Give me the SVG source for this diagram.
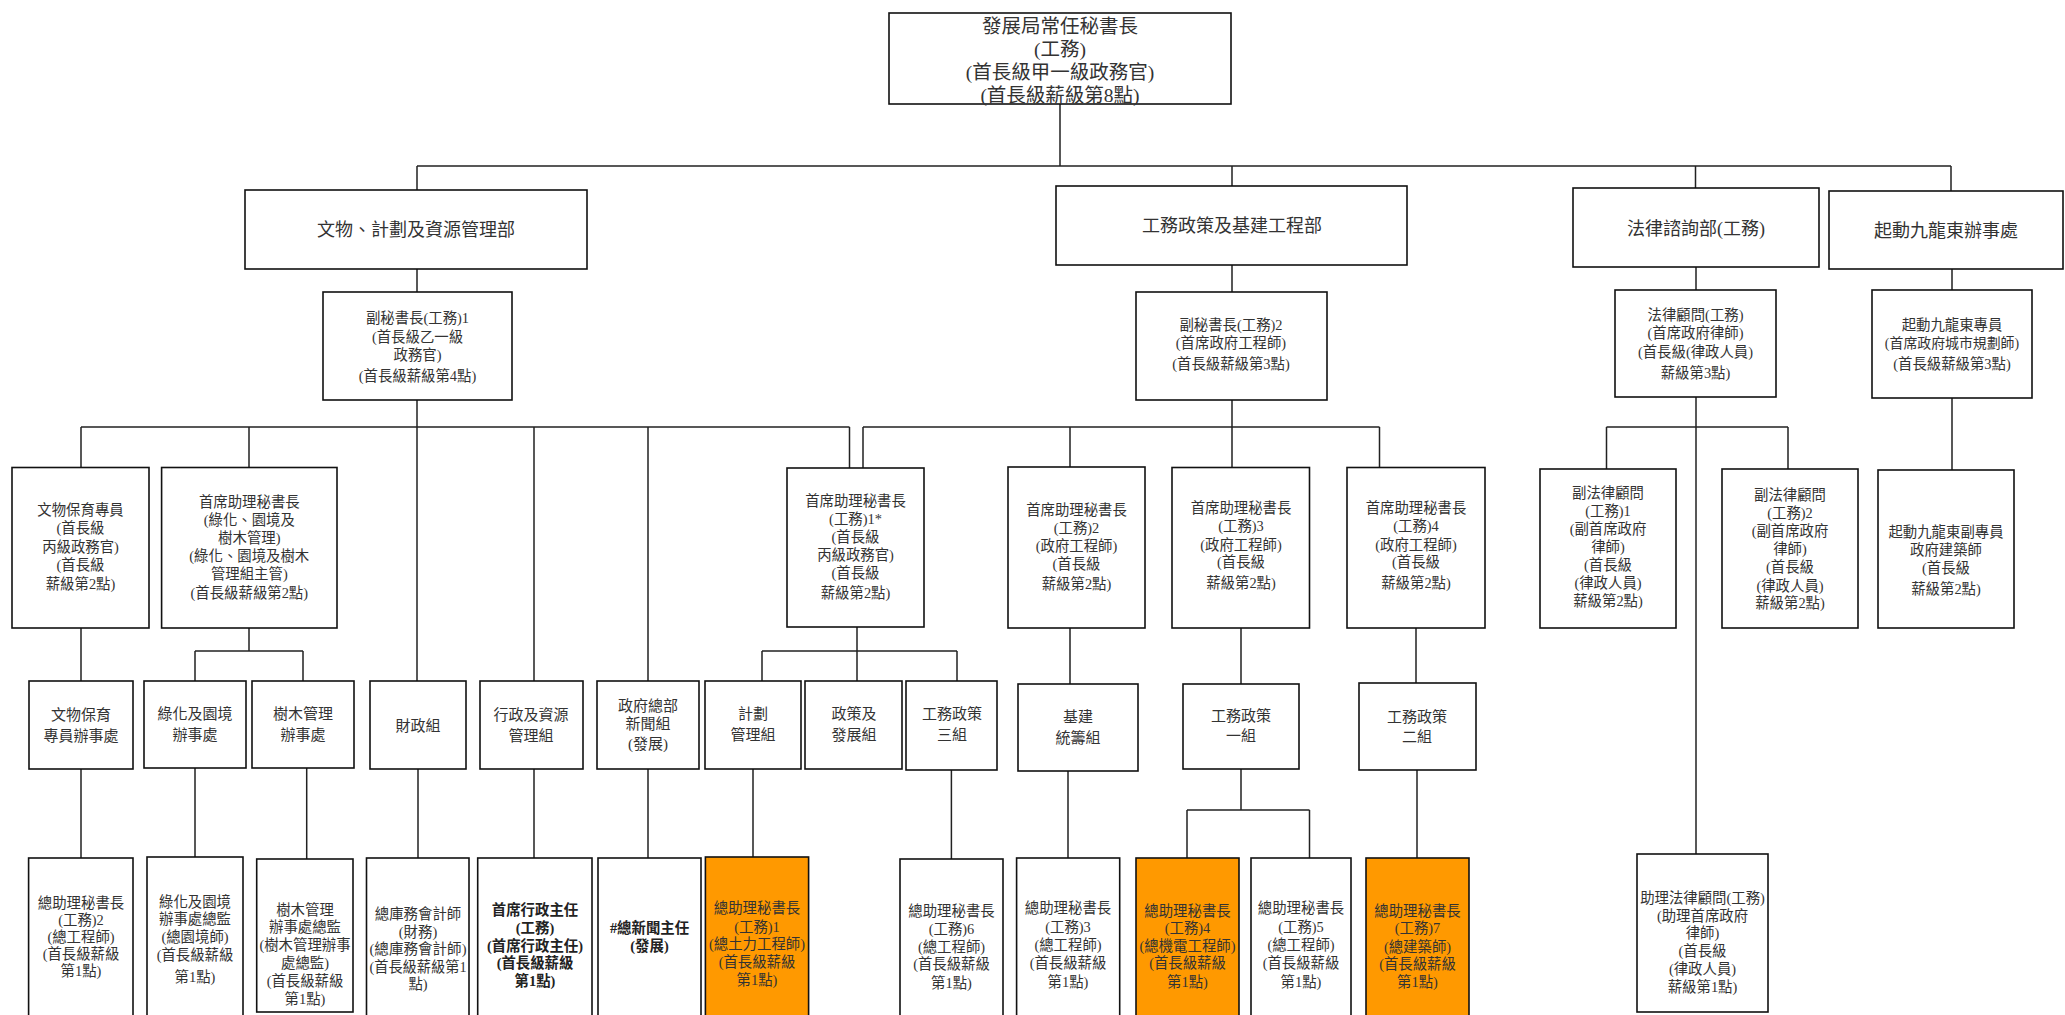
<svg xmlns="http://www.w3.org/2000/svg" width="2065" height="1015" viewBox="0 0 2065 1015">
<style>
.box{fill:#fff;stroke:#111;stroke-width:1.6}
.hl{fill:#FF9900}
.c{fill:none;stroke:#222;stroke-width:1.5}
text{font-family:"Liberation Serif","Noto Sans CJK TC",serif;fill:#333;text-anchor:middle;dominant-baseline:central;font-size:14.4px}
.big{font-size:19.5px}
.dep{font-size:18px}
.mid{font-size:15px}
.b{font-weight:bold;fill:#222}
</style>
<rect width="2065" height="1015" fill="#fff"/>
<g id="connectors">
<path class="c" d="M1060 104V166M417 166H1951M417 166V190M1232 166V186M1695.5 166V188M1951 166V191"/>
<path class="c" d="M417 269V292M1232 265V292M1696 267V290M1952 269V290"/>
<path class="c" d="M417 400V681M81 427H849.5M81 427V467.5M249 427V467.5M534 427V681M648 427V681M849.5 427V468"/>
<path class="c" d="M1232 400V467M863 427H1379.5M863 427V468M1070 427V467M1379.5 427V467.5"/>
<path class="c" d="M1696 397V854M1606.5 427H1788M1606.5 427V469M1788 427V469M1952 398V470"/>
<path class="c" d="M81 628V681M249 628V651M195 651H303M195 651V681M303 651V681"/>
<path class="c" d="M857 627V651M762 651H957M762 651V681M857 651V681M957 651V681"/>
<path class="c" d="M1070 628V684M1241 628V684M1416 628V683"/>
<path class="c" d="M81 769V858M195 768V857M306.7 768V859M418 769V858M534 769V858M648 769V858M753 769V857M951.4 770V859M1068 771V858M1417 770V858"/>
<path class="c" d="M1241 769V810M1187 810H1309.5M1187 810V858M1309.5 810V858"/>
</g>
<g id="n-ps"><rect class="box" x="889" y="13" width="342" height="91"/>
<text class="big"><tspan x="1060" y="26">發展局常任秘書長</tspan><tspan x="1060" y="49">(工務)</tspan><tspan x="1060" y="72">(首長級甲一級政務官)</tspan><tspan x="1060" y="95">(首長級薪級第8點)</tspan></text></g>

<g id="n-d1"><rect class="box" x="245" y="190" width="342" height="79"/><text class="dep" x="416" y="230">文物、計劃及資源管理部</text></g>
<g id="n-d2"><rect class="box" x="1056" y="186" width="351" height="79"/><text class="dep" x="1232" y="226">工務政策及基建工程部</text></g>
<g id="n-d3"><rect class="box" x="1573" y="188" width="246" height="79"/><text class="dep" x="1696" y="229">法律諮詢部(工務)</text></g>
<g id="n-d4"><rect class="box" x="1829" y="191" width="234" height="78"/><text class="dep" x="1946" y="231">起動九龍東辦事處</text></g>

<g id="n-a1"><rect class="box" x="323" y="292" width="189" height="108"/>
<text><tspan x="417.5" y="318">副秘書長(工務)1</tspan><tspan x="417.5" y="337">(首長級乙一級</tspan><tspan x="417.5" y="355">政務官)</tspan><tspan x="417.5" y="376">(首長級薪級第4點)</tspan></text></g>
<g id="n-a2"><rect class="box" x="1136" y="292" width="191" height="108"/>
<text><tspan x="1231" y="325">副秘書長(工務)2</tspan><tspan x="1231" y="343">(首席政府工程師)</tspan><tspan x="1231" y="364">(首長級薪級第3點)</tspan></text></g>
<g id="n-a3"><rect class="box" x="1615" y="290" width="161" height="107"/>
<text><tspan x="1695.5" y="315">法律顧問(工務)</tspan><tspan x="1695.5" y="333">(首席政府律師)</tspan><tspan x="1695.5" y="352">(首長級(律政人員)</tspan><tspan x="1695.5" y="373">薪級第3點)</tspan></text></g>
<g id="n-a4"><rect class="box" x="1872" y="290" width="160" height="108"/>
<text><tspan x="1952" y="325">起動九龍東專員</tspan><tspan x="1952" y="343" font-size="13.9">(首席政府城市規劃師)</tspan><tspan x="1952" y="364">(首長級薪級第3點)</tspan></text></g>

<g id="n-b1"><rect class="box" x="12" y="467.5" width="137" height="160.5"/>
<text><tspan x="80.5" y="509.7">文物保育專員</tspan><tspan x="80.5" y="528">(首長級</tspan><tspan x="80.5" y="546.5">丙級政務官)</tspan><tspan x="80.5" y="565">(首長級</tspan><tspan x="80.5" y="584">薪級第2點)</tspan></text></g>
<g id="n-b2"><rect class="box" x="161.6" y="467.5" width="175.4" height="160.5"/>
<text><tspan x="249.3" y="502">首席助理秘書長</tspan><tspan x="249.3" y="520">(綠化、園境及</tspan><tspan x="249.3" y="537.5">樹木管理)</tspan><tspan x="249.3" y="556">(綠化、園境及樹木</tspan><tspan x="249.3" y="574">管理組主管)</tspan><tspan x="249.3" y="593">(首長級薪級第2點)</tspan></text></g>
<g id="n-b3"><rect class="box" x="787" y="468" width="137" height="159"/>
<text><tspan x="855.5" y="500.5">首席助理秘書長</tspan><tspan x="855.5" y="519">(工務)1*</tspan><tspan x="855.5" y="537">(首長級</tspan><tspan x="855.5" y="555">丙級政務官)</tspan><tspan x="855.5" y="573">(首長級</tspan><tspan x="855.5" y="593">薪級第2點)</tspan></text></g>
<g id="n-b4"><rect class="box" x="1008" y="467" width="137" height="161"/>
<text><tspan x="1076.5" y="509.7">首席助理秘書長</tspan><tspan x="1076.5" y="528">(工務)2</tspan><tspan x="1076.5" y="546">(政府工程師)</tspan><tspan x="1076.5" y="564">(首長級</tspan><tspan x="1076.5" y="584">薪級第2點)</tspan></text></g>
<g id="n-b5"><rect class="box" x="1172" y="467.5" width="137.5" height="160.5"/>
<text><tspan x="1241" y="508">首席助理秘書長</tspan><tspan x="1241" y="526">(工務)3</tspan><tspan x="1241" y="544.5">(政府工程師)</tspan><tspan x="1241" y="562">(首長級</tspan><tspan x="1241" y="583">薪級第2點)</tspan></text></g>
<g id="n-b6"><rect class="box" x="1347" y="467.5" width="138" height="160.5"/>
<text><tspan x="1416" y="508">首席助理秘書長</tspan><tspan x="1416" y="526">(工務)4</tspan><tspan x="1416" y="544.5">(政府工程師)</tspan><tspan x="1416" y="562">(首長級</tspan><tspan x="1416" y="583">薪級第2點)</tspan></text></g>
<g id="n-b7"><rect class="box" x="1540" y="469" width="136" height="159"/>
<text><tspan x="1608" y="493">副法律顧問</tspan><tspan x="1608" y="511">(工務)1</tspan><tspan x="1608" y="529">(副首席政府</tspan><tspan x="1608" y="546.5">律師)</tspan><tspan x="1608" y="565">(首長級</tspan><tspan x="1608" y="583">(律政人員)</tspan><tspan x="1608" y="600.5">薪級第2點)</tspan></text></g>
<g id="n-b8"><rect class="box" x="1722" y="469" width="136" height="159"/>
<text><tspan x="1790" y="495">副法律顧問</tspan><tspan x="1790" y="513">(工務)2</tspan><tspan x="1790" y="531">(副首席政府</tspan><tspan x="1790" y="549">律師)</tspan><tspan x="1790" y="567">(首長級</tspan><tspan x="1790" y="586">(律政人員)</tspan><tspan x="1790" y="602.5">薪級第2點)</tspan></text></g>
<g id="n-b9"><rect class="box" x="1878" y="470" width="136" height="158"/>
<text><tspan x="1946" y="531.7">起動九龍東副專員</tspan><tspan x="1946" y="550">政府建築師</tspan><tspan x="1946" y="568">(首長級</tspan><tspan x="1946" y="588.5">薪級第2點)</tspan></text></g>

<g id="n-c1"><rect class="box" x="29" y="681" width="104" height="88"/><text class="mid"><tspan x="81" y="715">文物保育</tspan><tspan x="81" y="736">專員辦事處</tspan></text></g>
<g id="n-c2"><rect class="box" x="144" y="681" width="102" height="87"/><text class="mid"><tspan x="195" y="714">綠化及園境</tspan><tspan x="195" y="735">辦事處</tspan></text></g>
<g id="n-c3"><rect class="box" x="252" y="681" width="102" height="87"/><text class="mid"><tspan x="303" y="714">樹木管理</tspan><tspan x="303" y="735">辦事處</tspan></text></g>
<g id="n-c4"><rect class="box" x="370" y="681" width="96" height="88"/><text class="mid" x="418" y="726">財政組</text></g>
<g id="n-c5"><rect class="box" x="480" y="681" width="103" height="88"/><text class="mid"><tspan x="531" y="715">行政及資源</tspan><tspan x="531" y="736">管理組</tspan></text></g>
<g id="n-c6"><rect class="box" x="597" y="681" width="102" height="88"/><text class="mid"><tspan x="648" y="706">政府總部</tspan><tspan x="648" y="724">新聞組</tspan><tspan x="648" y="744">(發展)</tspan></text></g>
<g id="n-c7"><rect class="box" x="705" y="681" width="96" height="88"/><text class="mid"><tspan x="753" y="714">計劃</tspan><tspan x="753" y="735">管理組</tspan></text></g>
<g id="n-c8"><rect class="box" x="805" y="681" width="97" height="88"/><text class="mid"><tspan x="854" y="714">政策及</tspan><tspan x="854" y="735">發展組</tspan></text></g>
<g id="n-c9"><rect class="box" x="906" y="681" width="91" height="89"/><text class="mid"><tspan x="952" y="714">工務政策</tspan><tspan x="952" y="735">三組</tspan></text></g>
<g id="n-c10"><rect class="box" x="1018" y="684" width="120" height="87"/><text class="mid"><tspan x="1078" y="717">基建</tspan><tspan x="1078" y="738">統籌組</tspan></text></g>
<g id="n-c11"><rect class="box" x="1183" y="684" width="116" height="85"/><text class="mid"><tspan x="1241" y="716">工務政策</tspan><tspan x="1241" y="736">一組</tspan></text></g>
<g id="n-c12"><rect class="box" x="1359" y="683" width="117" height="87"/><text class="mid"><tspan x="1417" y="717">工務政策</tspan><tspan x="1417" y="737">二組</tspan></text></g>

<g id="n-e1"><rect class="box" x="28.6" y="858" width="104.4" height="170"/>
<text><tspan x="81" y="903">總助理秘書長</tspan><tspan x="81" y="920">(工務)2</tspan><tspan x="81" y="937">(總工程師)</tspan><tspan x="81" y="954">(首長級薪級</tspan><tspan x="81" y="971">第1點)</tspan></text></g>
<g id="n-e2"><rect class="box" x="147" y="857" width="96" height="170"/>
<text><tspan x="195" y="901.7">綠化及園境</tspan><tspan x="195" y="919">辦事處總監</tspan><tspan x="195" y="937">(總園境師)</tspan><tspan x="195" y="955">(首長級薪級</tspan><tspan x="195" y="976.7">第1點)</tspan></text></g>
<g id="n-e3"><rect class="box" x="256.7" y="859" width="96.3" height="153"/>
<text><tspan x="305" y="910">樹木管理</tspan><tspan x="305" y="927">辦事處總監</tspan><tspan x="305" y="945">(樹木管理辦事</tspan><tspan x="305" y="963">處總監)</tspan><tspan x="305" y="981">(首長級薪級</tspan><tspan x="305" y="999">第1點)</tspan></text></g>
<g id="n-e4"><rect class="box" x="366.5" y="858" width="102.5" height="170"/>
<text><tspan x="418" y="914">總庫務會計師</tspan><tspan x="418" y="931.7">(財務)</tspan><tspan x="418" y="949" textLength="97" lengthAdjust="spacingAndGlyphs">(總庫務會計師)</tspan><tspan x="418" y="966.7" textLength="97" lengthAdjust="spacingAndGlyphs">(首長級薪級第1</tspan><tspan x="418" y="984">點)</tspan></text></g>
<g id="n-e5"><rect class="box" x="477.7" y="858" width="114.3" height="170"/>
<text class="b"><tspan x="535" y="910">首席行政主任</tspan><tspan x="535" y="928">(工務)</tspan><tspan x="535" y="946">(首席行政主任)</tspan><tspan x="535" y="963">(首長級薪級</tspan><tspan x="535" y="981">第1點)</tspan></text></g>
<g id="n-e6"><rect class="box" x="598" y="858" width="103" height="170"/>
<text class="b"><tspan x="649.5" y="928">#總新聞主任</tspan><tspan x="649.5" y="946">(發展)</tspan></text></g>
<g id="n-e7"><rect class="box hl" x="705.4" y="857" width="103.2" height="170"/>
<text><tspan x="757" y="908">總助理秘書長</tspan><tspan x="757" y="927">(工務)1</tspan><tspan x="757" y="944">(總土力工程師)</tspan><tspan x="757" y="962">(首長級薪級</tspan><tspan x="757" y="980">第1點)</tspan></text></g>
<g id="n-e8"><rect class="box" x="900" y="859" width="103" height="170"/>
<text><tspan x="951.5" y="911">總助理秘書長</tspan><tspan x="951.5" y="929">(工務)6</tspan><tspan x="951.5" y="947">(總工程師)</tspan><tspan x="951.5" y="964">(首長級薪級</tspan><tspan x="951.5" y="983">第1點)</tspan></text></g>
<g id="n-e9"><rect class="box" x="1016.6" y="858" width="103.1" height="170"/>
<text><tspan x="1068" y="908">總助理秘書長</tspan><tspan x="1068" y="927">(工務)3</tspan><tspan x="1068" y="945">(總工程師)</tspan><tspan x="1068" y="963">(首長級薪級</tspan><tspan x="1068" y="982">第1點)</tspan></text></g>
<g id="n-e10"><rect class="box hl" x="1136" y="858" width="103" height="170"/>
<text><tspan x="1187.5" y="911">總助理秘書長</tspan><tspan x="1187.5" y="928">(工務)4</tspan><tspan x="1187.5" y="946">(總機電工程師)</tspan><tspan x="1187.5" y="963">(首長級薪級</tspan><tspan x="1187.5" y="982">第1點)</tspan></text></g>
<g id="n-e11"><rect class="box" x="1251" y="858" width="100" height="170"/>
<text><tspan x="1301" y="908">總助理秘書長</tspan><tspan x="1301" y="927">(工務)5</tspan><tspan x="1301" y="945">(總工程師)</tspan><tspan x="1301" y="963">(首長級薪級</tspan><tspan x="1301" y="982">第1點)</tspan></text></g>
<g id="n-e12"><rect class="box hl" x="1366" y="858" width="103" height="170"/>
<text><tspan x="1417.5" y="911">總助理秘書長</tspan><tspan x="1417.5" y="928">(工務)7</tspan><tspan x="1417.5" y="947">(總建築師)</tspan><tspan x="1417.5" y="964">(首長級薪級</tspan><tspan x="1417.5" y="982">第1點)</tspan></text></g>
<g id="n-e13"><rect class="box" x="1637" y="854" width="131" height="158"/>
<text><tspan x="1702.5" y="898">助理法律顧問(工務)</tspan><tspan x="1702.5" y="916">(助理首席政府</tspan><tspan x="1702.5" y="933">律師)</tspan><tspan x="1702.5" y="951">(首長級</tspan><tspan x="1702.5" y="969">(律政人員)</tspan><tspan x="1702.5" y="987">薪級第1點)</tspan></text></g>
</svg>
